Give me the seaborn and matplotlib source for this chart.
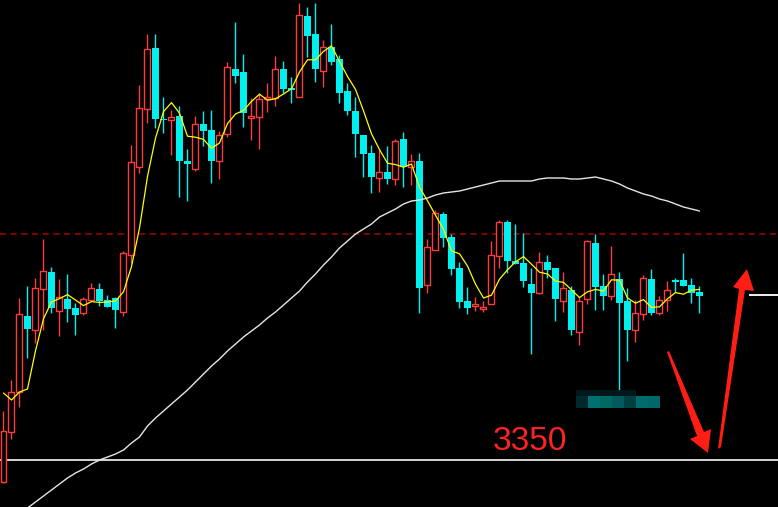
import numpy as np
import pandas as pd
import matplotlib
matplotlib.use("Agg")
import matplotlib.pyplot as plt
import seaborn as sns
from matplotlib.patches import Polygon, Rectangle

# candle data (88 bars)
opens = [3328, 3378, 3418, 3494, 3480, 3521, 3538, 3499, 3511, 3502,
         3497, 3510, 3521, 3510, 3512, 3498, 3555, 3643, 3701, 3762,
         3691, 3690, 3694, 3649, 3641, 3686, 3680, 3649, 3676, 3741,
         3738, 3692, 3693, 3711, 3712, 3741, 3722, 3713, 3794, 3776,
         3739, 3763, 3751, 3719, 3699, 3675, 3657, 3632, 3638, 3631,
         3671, 3643, 3649, 3525, 3560, 3596, 3573, 3542, 3509, 3504,
         3501, 3506, 3554, 3588, 3549, 3547, 3526, 3517, 3548, 3542,
         3509, 3520, 3478, 3511, 3567, 3524, 3514, 3531, 3509, 3480,
         3496, 3531, 3497, 3510, 3530, 3530, 3525, 3518]
highs = [3399, 3430, 3512, 3524, 3532, 3571, 3543, 3531, 3536, 3507,
         3513, 3527, 3527, 3515, 3513, 3559, 3665, 3725, 3776, 3776,
         3713, 3700, 3704, 3661, 3694, 3699, 3700, 3679, 3748, 3788,
         3756, 3712, 3717, 3727, 3754, 3749, 3733, 3807, 3803, 3807,
         3770, 3786, 3755, 3727, 3713, 3675, 3665, 3660, 3664, 3671,
         3678, 3656, 3657, 3571, 3600, 3598, 3576, 3548, 3523, 3513,
         3509, 3569, 3590, 3590, 3586, 3577, 3542, 3558, 3555, 3542,
         3538, 3524, 3513, 3570, 3576, 3536, 3564, 3538, 3522, 3510,
         3535, 3541, 3514, 3529, 3532, 3557, 3532, 3524]
lows = [3327, 3371, 3403, 3452, 3467, 3480, 3497, 3474, 3488, 3475,
        3495, 3510, 3504, 3503, 3482, 3494, 3547, 3637, 3687, 3682,
        3677, 3655, 3613, 3609, 3639, 3664, 3627, 3631, 3673, 3727,
        3683, 3670, 3661, 3698, 3704, 3717, 3707, 3713, 3753, 3728,
        3723, 3745, 3707, 3695, 3653, 3633, 3617, 3618, 3626, 3625,
        3623, 3625, 3497, 3517, 3560, 3563, 3535, 3502, 3496, 3499,
        3498, 3506, 3542, 3537, 3546, 3523, 3456, 3516, 3532, 3489,
        3498, 3475, 3465, 3506, 3500, 3500, 3510, 3420, 3449, 3468,
        3490, 3495, 3495, 3499, 3518, 3524, 3507, 3497]
closes = [3379, 3418, 3496, 3481, 3522, 3539, 3502, 3513, 3501, 3495,
          3511, 3522, 3509, 3503, 3500, 3557, 3648, 3702, 3761, 3691,
          3690, 3693, 3649, 3646, 3686, 3679, 3649, 3675, 3743, 3734,
          3697, 3694, 3711, 3713, 3741, 3721, 3720, 3795, 3774, 3741,
          3763, 3748, 3717, 3699, 3676, 3656, 3633, 3638, 3631, 3669,
          3643, 3649, 3522, 3563, 3597, 3572, 3541, 3508, 3502, 3506,
          3503, 3555, 3588, 3549, 3546, 3529, 3517, 3548, 3540, 3511,
          3522, 3480, 3509, 3569, 3523, 3514, 3536, 3507, 3480, 3497,
          3532, 3497, 3510, 3520, 3528, 3524, 3517, 3514]
# closes before the first visible bar (for the 5-bar average)
prior_closes = [3453, 3456, 3466, 3331]
# long moving average as drawn on the chart
ma_long = [3284, 3290, 3296, 3302, 3308, 3314, 3320, 3326, 3332, 3337,
           3341, 3346, 3350, 3353, 3356, 3360, 3367, 3373, 3384, 3392,
           3399, 3406, 3413, 3420, 3428, 3436, 3444, 3451, 3459, 3466,
           3473, 3479, 3485, 3492, 3498, 3505, 3512, 3519, 3528, 3536,
           3545, 3553, 3562, 3569, 3576, 3581, 3586, 3593, 3597, 3601,
           3606, 3609, 3610, 3612, 3615, 3617, 3618, 3619, 3621, 3623,
           3625, 3627, 3629, 3629, 3629, 3629, 3629, 3631, 3632, 3632,
           3632, 3631, 3631, 3632, 3633, 3631, 3629, 3626, 3622, 3619,
           3616, 3614, 3611, 3609, 3606, 3603, 3601, 3599]

support_level = 3350
dashed_level = 3576
right_mark = 3515
label_text = "3350"

RED = "#FF3C3C"
CYAN = "#00F0F0"

df = pd.DataFrame({"open": opens, "high": highs, "low": lows, "close": closes,
                   "ma_long": ma_long})
df["idx"] = np.arange(len(df))
df["ma5"] = pd.Series(prior_closes + closes).rolling(5).mean().iloc[4:].values

sns.set_theme(style="dark", rc={"axes.facecolor": "black", "figure.facecolor": "black"})

W, H = 778, 507
fig = plt.figure(figsize=(W / 100, H / 100), dpi=100)
ax = fig.add_axes([0, 0, 1, 1])
ax.set_facecolor("black")


def px(x, y):
    # screen pixel -> figure fraction
    return (x / W, 1 - y / H)


up = df[df["close"] >= df["open"]]
down = df[df["close"] < df["open"]]

ax.vlines(up["idx"], up["low"], up["high"], colors=RED, linewidth=1, zorder=2)
ax.vlines(down["idx"], down["low"], down["high"], colors=CYAN, linewidth=1, zorder=2)
ax.bar(down["idx"], (down["open"] - down["close"]).clip(lower=1.5), bottom=down["close"],
       width=0.875, color=CYAN, linewidth=0, zorder=3)
ax.bar(up["idx"], (up["close"] - up["open"]).clip(lower=1.5), bottom=up["open"],
       width=0.75, facecolor="black", edgecolor=RED, linewidth=1.0, zorder=3)

sns.lineplot(x=df["idx"], y=df["ma5"], color="#FFFF00", linewidth=0.9, ax=ax, zorder=4)
sns.lineplot(x=df["idx"], y=df["ma_long"], color="#E6E6E6", linewidth=1.0, ax=ax, zorder=4)

ax.axhline(dashed_level, color="#A80000", linestyle=(0, (4, 3)), linewidth=1.1, zorder=1)
ax.axhline(support_level, color="#D6D6D6", linewidth=1.4, zorder=1)
ax.hlines(right_mark, 93.2, 97.5, color="#F0F0F0", linewidth=1.4)

ax.text(61.2, 3360, label_text, color="#FF2222", fontsize=24,
        family=["Liberation Sans", "DejaVu Sans"], va="baseline", ha="left")

# pixelated (blurred) box
cells = ["#00292E", "#007070", "#006A62", "#005A5E", "#003F42", "#006C6C", "#006868"]
for k, c in enumerate(cells):
    x0, y0 = px(576 + 12 * k, 408)
    fig.patches.append(Rectangle((x0, y0), 12 / W, 12 / H, transform=fig.transFigure,
                                 facecolor=c, edgecolor="none"))
for k in range(5):
    x0, y0 = px(576 + 12 * k, 396)
    fig.patches.append(Rectangle((x0, y0), 12 / W, 6 / H, transform=fig.transFigure,
                                 facecolor="#00181B", edgecolor="none"))

# red arrows
arrow_down = [(667, 352), (669, 351), (704, 432), (711, 429), (708, 453), (690, 439), (697, 436)]
arrow_up = [(718, 449), (721, 447), (745, 290), (754, 291), (747, 269),
            (733, 287), (739, 289)]
for pts in (arrow_down, arrow_up):
    fig.patches.append(Polygon([px(*p) for p in pts], closed=True, transform=fig.transFigure,
                               facecolor="#FF1E14", edgecolor="none"))

ax.set_xlim(-0.4375, (W - 3.5) / 8)
ax.set_ylim(3810 - H, 3810)
ax.axis("off")

plt.savefig("out.png", dpi=100, facecolor="black")
